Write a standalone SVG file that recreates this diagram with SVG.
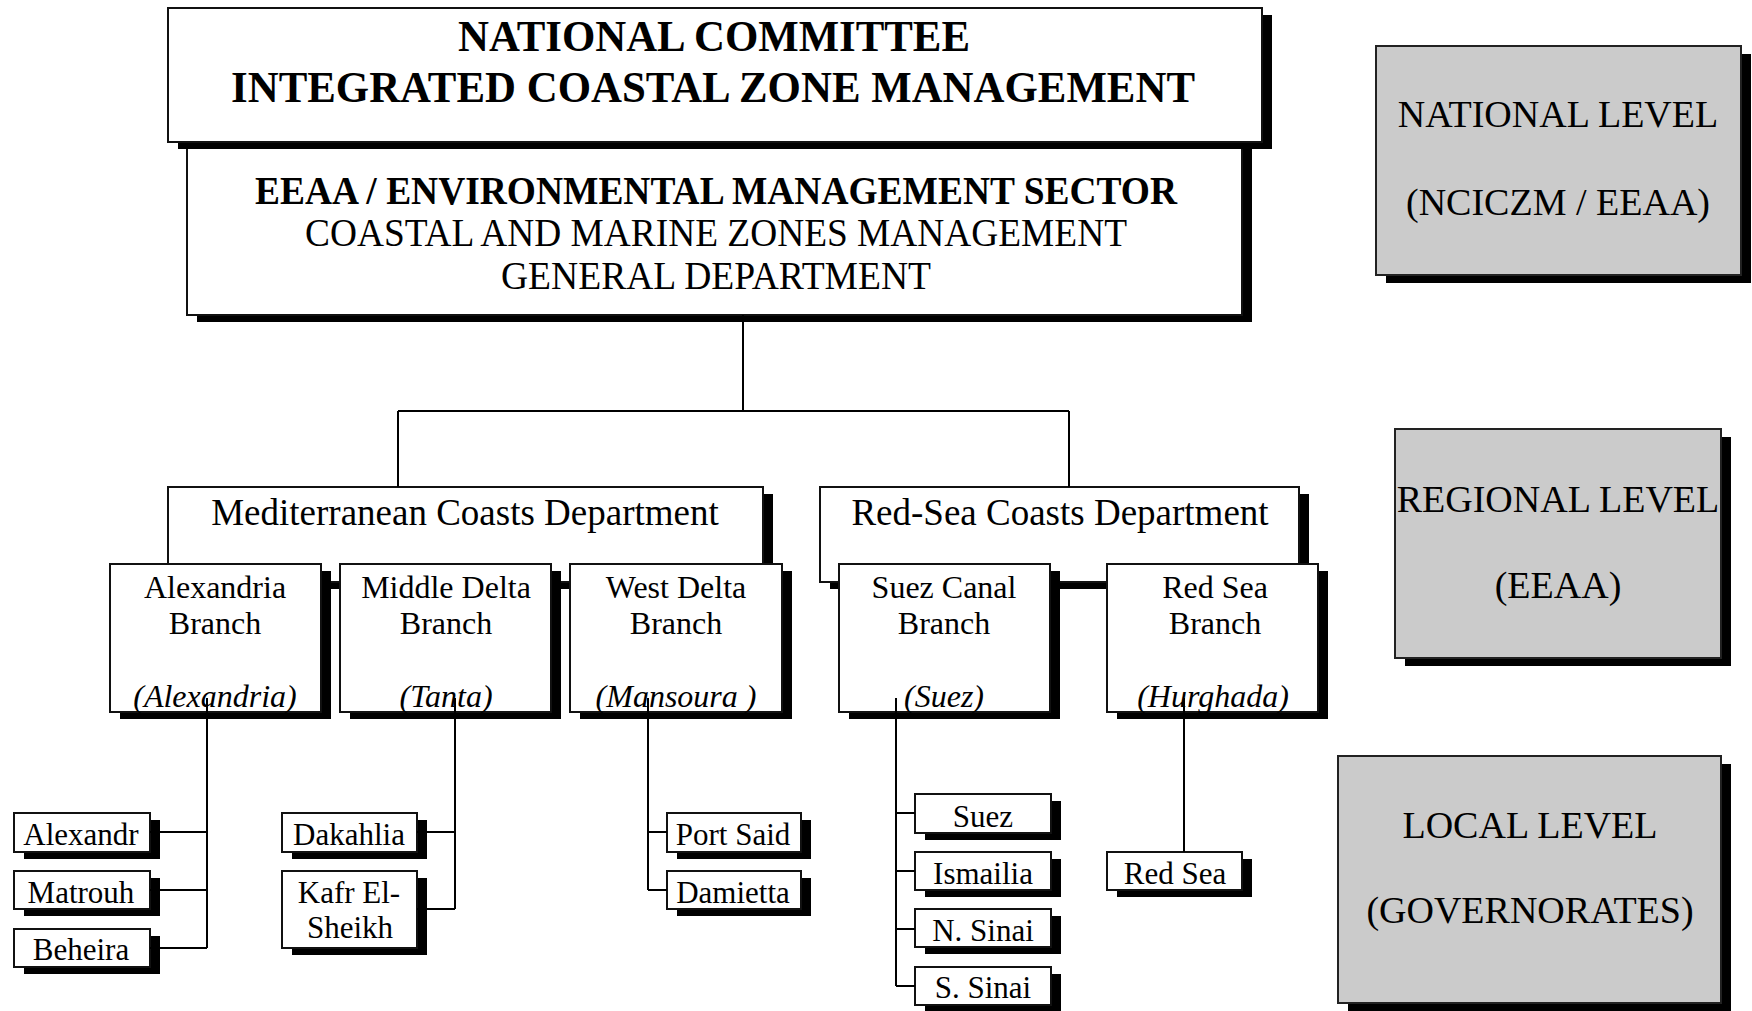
<svg xmlns="http://www.w3.org/2000/svg" width="1752" height="1011" viewBox="0 0 1752 1011">
<style>
.box{fill:#fff;stroke:#111;stroke-width:2}
.lvl{fill:#cbcbcb;stroke:#222;stroke-width:2}
.sh{fill:#000}
.t{font-family:"Liberation Serif","Times New Roman",serif;fill:#000;text-anchor:middle}
.b{font-weight:bold}
.i{font-style:italic}
.s44{font-size:44px}
.s39{font-size:39px}
.s38{font-size:38px}
.s37{font-size:37px}
.s32{font-size:32px}
.s31{font-size:31px}
.conn{stroke:#000;stroke-width:2;fill:none}
</style>
<rect width="1752" height="1011" fill="#fff"/>

<g id="eeaa">
<rect class="sh" x="197" y="147" width="1055" height="175"/>
<rect class="box" x="187" y="140" width="1055" height="175"/>
<text class="t b s39" x="716" y="204" textLength="922" lengthAdjust="spacingAndGlyphs">EEAA / ENVIRONMENTAL MANAGEMENT SECTOR</text>
<text class="t s39" x="716" y="246" textLength="822" lengthAdjust="spacingAndGlyphs">COASTAL AND MARINE ZONES MANAGEMENT</text>
<text class="t s39" x="716" y="289" textLength="430" lengthAdjust="spacingAndGlyphs">GENERAL DEPARTMENT</text>
</g>

<g id="national-committee">
<rect class="sh" x="178" y="15" width="1094" height="134"/>
<rect class="box" x="168" y="8" width="1094" height="134"/>
<text class="t b s44" x="714" y="51" textLength="512" lengthAdjust="spacingAndGlyphs">NATIONAL COMMITTEE</text>
<text class="t b s44" x="713" y="102" textLength="964" lengthAdjust="spacingAndGlyphs">INTEGRATED COASTAL ZONE MANAGEMENT</text>
</g>

<g id="med-dept">
<rect class="sh" x="178" y="494" width="595" height="95"/>
<rect class="box" x="168" y="487" width="595" height="95"/>
<text class="t s37" x="465" y="525">Mediterranean Coasts Department</text>
</g>

<g id="redsea-dept">
<rect class="sh" x="830" y="494" width="479" height="95"/>
<rect class="box" x="820" y="487" width="479" height="95"/>
<text class="t s37" x="1060" y="525">Red-Sea Coasts Department</text>
</g>

<g id="alexandria-branch">
<rect class="sh" x="120" y="571" width="211" height="148"/>
<rect class="box" x="110" y="564" width="211" height="148"/>
<text class="t s32" x="215" y="598">Alexandria</text>
<text class="t s32" x="215" y="634">Branch</text>
<text class="t i s32" x="215" y="707">(Alexandria)</text>
</g>

<g id="middle-delta-branch">
<rect class="sh" x="350" y="571" width="211" height="148"/>
<rect class="box" x="340" y="564" width="211" height="148"/>
<text class="t s32" x="446" y="598">Middle Delta</text>
<text class="t s32" x="446" y="634">Branch</text>
<text class="t i s32" x="446" y="707">(Tanta)</text>
</g>

<g id="west-delta-branch">
<rect class="sh" x="580" y="571" width="212" height="148"/>
<rect class="box" x="570" y="564" width="212" height="148"/>
<text class="t s32" x="676" y="598">West Delta</text>
<text class="t s32" x="676" y="634">Branch</text>
<text class="t i s32" x="676" y="707">(Mansoura )</text>
</g>

<g id="suez-canal-branch">
<rect class="sh" x="849" y="571" width="211" height="148"/>
<rect class="box" x="839" y="564" width="211" height="148"/>
<text class="t s32" x="944" y="598">Suez Canal</text>
<text class="t s32" x="944" y="634">Branch</text>
<text class="t i s32" x="944" y="707">(Suez)</text>
</g>

<g id="red-sea-branch">
<rect class="sh" x="1117" y="571" width="211" height="148"/>
<rect class="box" x="1107" y="564" width="211" height="148"/>
<text class="t s32" x="1215" y="598">Red Sea</text>
<text class="t s32" x="1215" y="634">Branch</text>
<text class="t i s32" x="1213" y="707">(Hurghada)</text>
</g>

<g id="gov-alexandria">
<rect class="sh" x="24" y="820" width="136" height="39"/>
<rect class="box" x="14" y="813" width="136" height="39"/>
<text class="t s31" x="81" y="845">Alexandr</text>
</g>
<g id="gov-matrouh">
<rect class="sh" x="24" y="878" width="136" height="38"/>
<rect class="box" x="14" y="871" width="136" height="38"/>
<text class="t s31" x="81" y="903">Matrouh</text>
</g>
<g id="gov-beheira">
<rect class="sh" x="24" y="936" width="136" height="38"/>
<rect class="box" x="14" y="929" width="136" height="38"/>
<text class="t s31" x="81" y="960">Beheira</text>
</g>

<g id="gov-dakahlia">
<rect class="sh" x="292" y="820" width="135" height="39"/>
<rect class="box" x="282" y="813" width="135" height="39"/>
<text class="t s31" x="349" y="845">Dakahlia</text>
</g>
<g id="gov-kafr">
<rect class="sh" x="292" y="878" width="135" height="77"/>
<rect class="box" x="282" y="871" width="135" height="77"/>
<text class="t s31" x="349" y="903">Kafr El-</text>
<text class="t s31" x="350" y="938">Sheikh</text>
</g>

<g id="gov-portsaid">
<rect class="sh" x="677" y="820" width="134" height="39"/>
<rect class="box" x="667" y="813" width="134" height="39"/>
<text class="t s31" x="733" y="845">Port Said</text>
</g>
<g id="gov-damietta">
<rect class="sh" x="677" y="878" width="134" height="38"/>
<rect class="box" x="667" y="871" width="134" height="38"/>
<text class="t s31" x="733" y="903">Damietta</text>
</g>

<g id="gov-suez">
<rect class="sh" x="925" y="801" width="136" height="39"/>
<rect class="box" x="915" y="794" width="136" height="39"/>
<text class="t s31" x="983" y="827">Suez</text>
</g>
<g id="gov-ismailia">
<rect class="sh" x="925" y="859" width="136" height="38"/>
<rect class="box" x="915" y="852" width="136" height="38"/>
<text class="t s31" x="983" y="884">Ismailia</text>
</g>
<g id="gov-nsinai">
<rect class="sh" x="925" y="916" width="136" height="38"/>
<rect class="box" x="915" y="909" width="136" height="38"/>
<text class="t s31" x="983" y="941">N. Sinai</text>
</g>
<g id="gov-ssinai">
<rect class="sh" x="925" y="974" width="136" height="38"/>
<rect class="box" x="915" y="967" width="136" height="38"/>
<text class="t s31" x="983" y="998">S. Sinai</text>
</g>

<g id="gov-redsea">
<rect class="sh" x="1117" y="859" width="135" height="38"/>
<rect class="box" x="1107" y="852" width="135" height="38"/>
<text class="t s31" x="1175" y="884">Red Sea</text>
</g>

<g id="level-national">
<rect class="sh" x="1386" y="54" width="365" height="229"/>
<rect class="lvl" x="1376" y="46" width="365" height="229"/>
<text class="t s38" x="1558" y="127">NATIONAL LEVEL</text>
<text class="t s38" x="1558" y="215">(NCICZM / EEAA)</text>
</g>

<g id="level-regional">
<rect class="sh" x="1405" y="437" width="326" height="229"/>
<rect class="lvl" x="1395" y="429" width="326" height="229"/>
<text class="t s38" x="1558" y="512">REGIONAL LEVEL</text>
<text class="t s38" x="1558" y="598">(EEAA)</text>
</g>

<g id="level-local">
<rect class="sh" x="1348" y="764" width="383" height="247"/>
<rect class="lvl" x="1338" y="756" width="383" height="247"/>
<text class="t s38" x="1530" y="838">LOCAL LEVEL</text>
<text class="t s38" x="1530" y="923">(GOVERNORATES)</text>
</g>

<g id="connectors" class="conn">
<path d="M743 315V411"/>
<path d="M398 411H1069"/>
<path d="M398 411V487"/>
<path d="M1069 411V487"/>
<path d="M207 698V948"/>
<path d="M150 832H207M150 890H207M150 948H207"/>
<path d="M455 698V909"/>
<path d="M417 832H455M417 909H455"/>
<path d="M648 698V890"/>
<path d="M648 832H667M648 890H667"/>
<path d="M896 698V986"/>
<path d="M896 813H915M896 871H915M896 929H915M896 986H915"/>
<path d="M1184 698V852"/>
</g>
</svg>
